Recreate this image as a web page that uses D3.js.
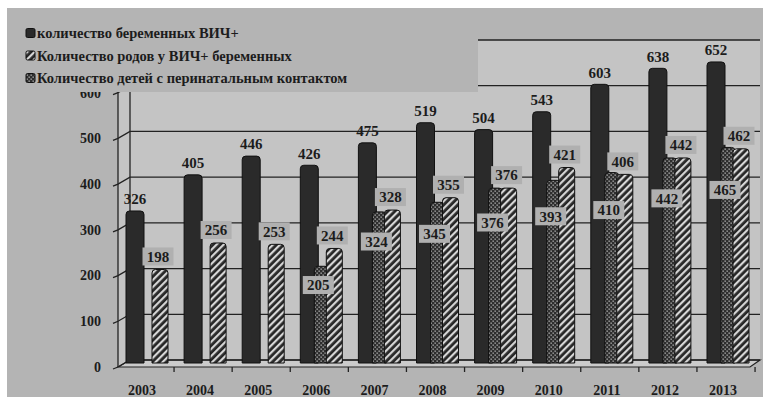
<!DOCTYPE html>
<html><head><meta charset="utf-8">
<script src="https://cdn.jsdelivr.net/npm/d3@7/dist/d3.min.js"></script>
<style>body{margin:0;background:#fff}svg{display:block}</style>
</head><body>
<svg id="c" width="769" height="403"></svg>
<script>
const years = ["2003","2004","2005","2006","2007","2008","2009","2010","2011","2012","2013"];
const pregnant = [326,405,446,426,475,519,504,543,603,638,652];
const births = [198,256,253,244,328,355,376,421,406,442,462];
const children = [null,null,null,205,324,345,376,393,410,442,465];
const yTicks = [0,100,200,300,400,500,600,700];
const yLabels = [0,100,200,300,400,500,600];
const legendLabels = ["количество беременных ВИЧ+","Количество родов у ВИЧ+ беременных","Количество детей с перинатальным контактом"];

const FONT = '"Liberation Serif"';
const svg = d3.select("#c");
const bg = "#b4b4b4", wall = "#c4c4c4", ink = "#1c1c1c";

const defs = svg.append("defs");
const pd = defs.append("pattern").attr("id","diag").attr("patternUnits","userSpaceOnUse")
  .attr("width",5).attr("height",5).attr("patternTransform","rotate(45)");
pd.append("rect").attr("width",5).attr("height",5).attr("fill","#262626");
pd.append("rect").attr("width",2.2).attr("height",5).attr("fill","#d6d6d6");
const pt = defs.append("pattern").attr("id","dots").attr("patternUnits","userSpaceOnUse")
  .attr("width",4).attr("height",4);
pt.append("rect").attr("width",4).attr("height",4).attr("fill","#2e2e2e");
pt.append("rect").attr("x",0.5).attr("y",0.5).attr("width",1.3).attr("height",1.3).attr("fill","#b8b8b8");
pt.append("rect").attr("x",2.5).attr("y",2.5).attr("width",1.3).attr("height",1.3).attr("fill","#b8b8b8");

svg.append("rect").attr("x",7).attr("y",8).attr("width",756).attr("height",389).attr("fill",bg);

const frontX = 118, backX = 130, depth = 7, backRight = 760, frontRight = 750;
const yF = d3.scaleLinear().domain([0,700]).range([367,47]);
const yB = v => yF(v) - depth;
const x = d3.scalePoint().domain(years).range([142,723]);

svg.append("rect").attr("x",backX).attr("y",yB(700)).attr("width",backRight-backX).attr("height",yB(0)-yB(700)).attr("fill",wall);
svg.append("path").attr("d",`M${frontX},${yF(0)}L${backX},${yB(0)}L${backX},${yB(700)}L${frontX},${yF(700)}Z`).attr("fill",wall);
svg.append("path").attr("d",`M${frontX},${yF(0)}L${backX},${yB(0)}L${backRight},${yB(0)}L${frontRight},${yF(0)}Z`)
  .attr("fill","#cbcbcb").attr("stroke","#222").attr("stroke-width",1.2);

const grid = svg.append("g").attr("stroke","#222").attr("stroke-width",1.3).attr("fill","none");
yTicks.forEach(v=>{
  grid.append("path").attr("d",`M${frontX-5},${yF(v)+2}L${frontX},${yF(v)}L${backX},${yB(v)}L${backRight},${yB(v)}`);
});
grid.append("line").attr("x1",frontX).attr("x2",frontX).attr("y1",yF(0)).attr("y2",yF(700));
grid.append("line").attr("x1",backX).attr("x2",backX).attr("y1",yB(0)).attr("y2",yB(700));

const step = x.step();
years.forEach((yr)=>{
  const tx = x(yr) + step/2 + 3;
  grid.append("line").attr("x1",tx).attr("x2",tx).attr("y1",yF(0)).attr("y2",yF(0)+5);
});

svg.append("g").selectAll("text").data(yLabels).join("text")
  .attr("x",101).attr("y",d=>yF(d)).attr("dy","0.35em").attr("text-anchor","end")
  .style("font-family",FONT).style("font-weight","bold").style("font-size","14px").attr("fill",ink).text(d=>d);

svg.append("g").selectAll("text").data(years).join("text")
  .attr("x",d=>x(d)).attr("y",395).attr("text-anchor","middle")
  .style("font-family",FONT).style("font-weight","bold").style("font-size","14px").attr("fill",ink).text(d=>d);

function barPath(x0,w,top,bottom){
  const r = 3.5;
  return `M${x0},${bottom}L${x0},${top+r}Q${x0},${top} ${x0+r},${top}L${x0+w-r},${top}Q${x0+w},${top} ${x0+w},${top+r}L${x0+w},${bottom}Z`;
}
const series = [
  {vals:pregnant, fill:"#2a2a2a", off:-16, w:18},
  {vals:children, fill:"url(#dots)", off:-2, w:14},
  {vals:births, fill:"url(#diag)", off:10, w:16}
];
const barsG = svg.append("g");
series.forEach(s=>{
  barsG.append("g").selectAll("path").data(years.map((y,i)=>({y,v:s.vals[i]})).filter(d=>d.v!=null)).join("path")
    .attr("d",d=>barPath(x(d.y)+s.off, s.w, yB(d.v), yB(0)+3))
    .attr("fill",s.fill).attr("stroke","#111").attr("stroke-width",1);
});

const lab = svg.append("g").attr("fill",ink).attr("text-anchor","middle");
function valText(cx,cy,t){
  lab.append("text").attr("x",cx).attr("y",cy).attr("dy","0.35em")
    .style("font-family",FONT).style("font-weight","bold").style("font-size","15px").text(t);
}
years.forEach((yr,i)=>{ valText(x(yr)-7, yB(pregnant[i])-12, pregnant[i]); });
function boxLabel(cx,cy,t){
  lab.append("rect").attr("x",cx-15.5).attr("y",cy-9).attr("width",31).attr("height",18).attr("fill","#b0b0b0");
  valText(cx,cy,t);
}
years.forEach((yr,i)=>{
  if (children[i]!=null) boxLabel(x(yr)+2, yB(children[i]*0.8), children[i]);
});
years.forEach((yr,i)=>{
  boxLabel(x(yr)+16, yB(births[i])-13, births[i]);
});

const lg = svg.append("g");
lg.append("rect").attr("x",12).attr("y",14).attr("width",466).attr("height",78).attr("fill",bg);
const lfills = ["#2a2a2a","url(#diag)","url(#dots)"];
legendLabels.forEach((t,i)=>{
  const cy = 33 + i*22.5;
  lg.append("rect").attr("x",26).attr("y",cy-4.5).attr("width",9).attr("height",9).attr("rx",1.5)
    .attr("fill",lfills[i]).attr("stroke","#111").attr("stroke-width",1);
  lg.append("text").attr("x",37).attr("y",cy).attr("dy","0.35em")
    .style("font-family",FONT).style("font-size","14.5px").style("font-weight","bold").attr("fill",ink).text(t);
});
</script>
</body></html>
